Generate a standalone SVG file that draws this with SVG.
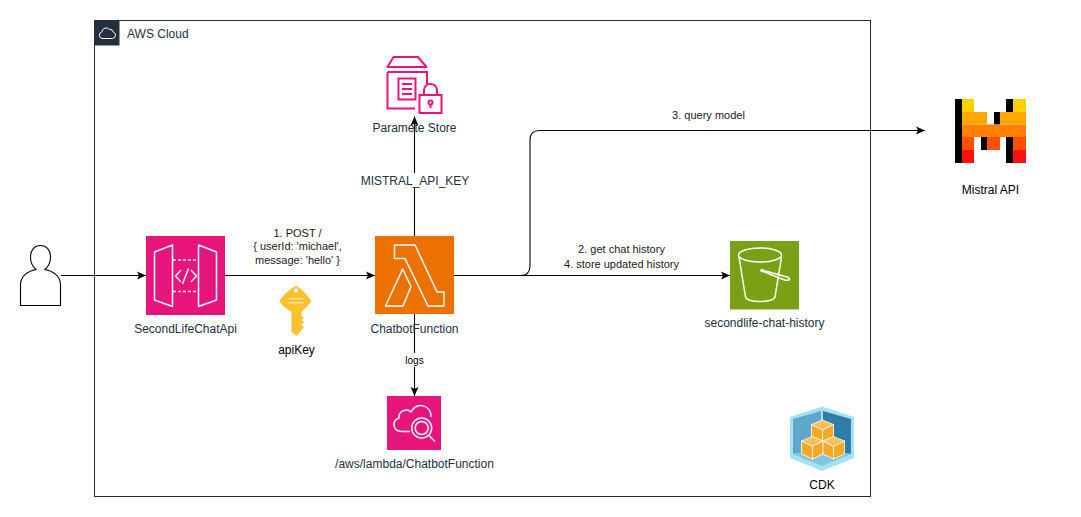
<svg xmlns="http://www.w3.org/2000/svg" width="1081" height="517" viewBox="0 0 1081 517">
<defs>
<marker id="arrow" markerUnits="userSpaceOnUse" markerWidth="11" markerHeight="11" refX="10" refY="5.500" orient="auto"><path d="M1 1.500 L10 5.500 L1 9.500 L3 5.500 Z" fill="#000"/></marker>
</defs>
<style>
text{font-family:"Liberation Sans",Arial,sans-serif;font-size:12px;text-anchor:middle}
.dark{fill:#232f3e}
.blk{fill:#000}
.lbl{fill:#1a1a1a;font-size:11px}
.conn{fill:none;stroke:#000;stroke-width:1.100;marker-end:url(#arrow)}
.ico{fill:none;stroke:#fff;stroke-width:1.500;stroke-linejoin:round}
.pink{fill:none;stroke:#e7157b;stroke-width:2}
</style>
<rect width="1081" height="517" fill="#fff"/>
<g id="aws-cloud">
<rect x="94.500" y="20.500" width="776" height="476" fill="none" stroke="#232f3e" stroke-width="1"/>
<rect x="94.500" y="20.500" width="25" height="25" fill="#232f3e"/>
<path d="M102 38.500 h10.500 a3.300 3.300 0 0 0 .8-6.400 a3.200 3.200 0 0 0-3.800-2.600 a4.300 4.300 0 0 0-7.600 2.400 a3.400 3.400 0 0 0 .1 6.600 Z" fill="none" stroke="#fff" stroke-width="1"/>
<text x="127" y="38" class="dark" style="text-anchor:start">AWS Cloud</text>
</g>
<g id="connectors">
<path class="conn" d="M61 275.500 H146"/>
<path class="conn" d="M225 275.500 H375"/>
<path class="conn" d="M414.500 236 V116.500"/>
<path class="conn" d="M414.500 314 V396"/>
<path class="conn" d="M454 275.500 H730"/>
<path class="conn" d="M454 275.500 H520.500 Q530 275.500 530 266 V140 Q530 130.500 539.500 130.500 H925"/>
<rect x="360" y="173" width="110" height="15" fill="#fff"/>
<text x="415" y="184.500" class="dark">MISTRAL_API_KEY</text>
<rect x="404" y="353" width="21" height="14" fill="#fff"/>
<text x="414.500" y="363.500" class="blk" style="font-size:10px">logs</text>
<text x="297.500" y="237" class="lbl">1. POST /</text>
<text x="297.500" y="250" class="lbl">{ userId: 'michael',</text>
<text x="297.500" y="263.500" class="lbl">message: 'hello' }</text>
<text x="621.500" y="252.500" class="lbl">2. get chat history</text>
<text x="621.500" y="267.500" class="lbl">4. store updated history</text>
<text x="708.500" y="119" class="lbl">3. query model</text>
</g>
<g id="user">
<path d="M20.500 305.500 V285 C20.500 276 28 271 36 269.500 C33 267 30.500 262.500 30.500 257 C30.500 250 34.500 245.500 40.500 245.500 C46.500 245.500 50.500 250 50.500 257 C50.500 262.500 48 267 45 269.500 C53 271 60.500 276 60.500 285 V305.500 Z" fill="#fff" stroke="#000" stroke-width="1.100"/>
</g>
<g id="api">
<rect x="146" y="236" width="79" height="79" fill="#e7157b"/>
<path class="ico" d="M154.500 252 L172.500 245 V306.500 L154.500 300 Z M216.500 252 L198.500 245 V306.500 L216.500 300 Z"/>
<path class="ico" stroke-dasharray="3 2" d="M173 260 H198 M173 291.500 H198"/>
<path class="ico" d="M181 270 L175.500 276 L181 282 M191 270 L196.500 276 L191 282 M188.500 268.500 L182.500 284"/>
<text x="185.500" y="332.500" class="dark">SecondLifeChatApi</text>
</g>
<g id="apikey">
<path d="M296 286 C299 286 311 299 311 301 C311 303.500 302 311 301.500 312 V316 L304 318 L301.500 320 L304 322 L301.500 325 L304 327 L296.500 336 L291.500 332 V312 C289 311 279.500 303 279.500 301 C279.500 299 293 286 296 286 Z" fill="#fbc02d"/>
<rect x="288.500" y="298" width="15" height="1.500" fill="#fde68a"/>
<rect x="288.500" y="302" width="15" height="1.500" fill="#fde68a"/>
<circle cx="296" cy="290.500" r="2" fill="#fff"/>
<text x="296.500" y="354" class="blk">apiKey</text>
</g>
<g id="lambda">
<rect x="375" y="236" width="79" height="78" fill="#ed7100"/>
<path class="ico" d="M394.500 245 H415 L437 292 H444 V306 H428 L405 258.500 H394.500 Z M402.700 269 L411 286.500 L403 306 H385.500 Z"/>
<text x="414.500" y="332.500" class="dark">ChatbotFunction</text>
</g>
<g id="parameter-store">
<path class="pink" stroke-linejoin="round" d="M387.500 67 L393.500 57 H418 L426.500 67 Z"/>
<path class="pink" d="M387.500 72 V108.500 H415 M387.500 72 H427 V84"/>
<rect x="398.500" y="78.500" width="17" height="21" class="pink"/>
<path class="pink" d="M402 84 H412 M402 89 H412 M402 94 H412"/>
<rect x="419.500" y="95" width="22" height="18" class="pink"/>
<path class="pink" d="M424 95 V90 a6.500 6 0 0 1 13 0 V95"/>
<circle cx="430.500" cy="102.500" r="2" class="pink"/>
<path class="pink" d="M430.500 104 V108"/>
<text x="414.500" y="132" class="dark">Paramete Store</text>
</g>
<g id="logs-group">
<rect x="387" y="396" width="54" height="54" fill="#e7157b"/>
<path class="ico" d="M410 431.500 H402 C393 431.500 391 421 399 418 C398 411 407 408 411 412 C416 401 432 405 431 417"/>
<circle cx="421.700" cy="428" r="10" class="ico"/>
<circle cx="421.700" cy="428" r="6.500" class="ico"/>
<path class="ico" stroke-width="2.500" d="M429 435.500 L435 441.500"/>
<text x="414.500" y="468" class="dark">/aws/lambda/ChatbotFunction</text>
</g>
<g id="s3">
<rect x="730" y="241" width="69" height="68.500" fill="#7aa116"/>
<path class="ico" d="M739 257 L745.500 297 C747 303 773 303 775 297 L781.500 257"/>
<ellipse cx="760" cy="255" rx="21.500" ry="7" class="ico"/>
<path class="ico" d="M762 270 L787 277 C792 279 789 281 785 280 C778 278 770 274 762 271"/>
<circle cx="762" cy="270.500" r="1.800" fill="#fff"/>
<text x="764.500" y="326.500" class="dark">secondlife-chat-history</text>
</g>
<g id="mistral">
<rect x="955" y="99" width="7" height="64" fill="#000"/>
<rect x="962" y="99" width="12" height="13" fill="#ffd000"/>
<rect x="962" y="112" width="25" height="12.500" fill="#ffa800"/>
<rect x="1006" y="99" width="7" height="13" fill="#000"/>
<rect x="1013" y="99" width="13" height="13" fill="#ffd000"/>
<rect x="1000" y="112" width="26" height="12.500" fill="#ffa800"/>
<rect x="994" y="112" width="6" height="12.500" fill="#000"/>
<rect x="962" y="124.500" width="64" height="12.500" fill="#ff7f00"/>
<rect x="962" y="137" width="12" height="13" fill="#ff5000"/>
<rect x="981" y="137" width="6" height="13" fill="#000"/>
<rect x="987" y="137" width="13" height="13" fill="#ff5000"/>
<rect x="1006" y="137" width="7" height="26" fill="#000"/>
<rect x="1013" y="137" width="13" height="13" fill="#ff5000"/>
<rect x="962" y="150" width="12" height="13" fill="#ff1010"/>
<rect x="1013" y="150" width="13" height="13" fill="#ff1010"/>
<text x="990.500" y="194" class="blk">Mistral API</text>
</g>
<g id="cdk">
<path d="M822 406.500 L854 417 V458 L822 471 L790 458 V417 Z" fill="#a6e0f5"/>
<path d="M823 411 L851 419 V454 L823 450 Z" fill="#2e7da6"/>
<path d="M821 411 L793 419 V454 L821 450 Z" fill="#5fa8cc"/>
<path d="M793 454 L822 450 L851 454 L822 466 Z" fill="#7fc6e3"/>
<g fill="#f9a825" stroke="#fff" stroke-width=".8">
<path d="M811.500 424.500 L822.500 420 L833.500 424.500 L822.500 430 Z" fill="#fdc05a"/><path d="M811.500 424.500 V438 L822.500 443 V430 Z"/><path d="M833.500 424.500 V438 L822.500 443 V430 Z"/>
<path d="M801.500 441 L812.500 436.500 L823 441 L812.500 446.500 Z" fill="#fdc05a"/><path d="M801.500 441 V454 L812.500 459 V446.500 Z"/><path d="M823 441 V454 L812.500 459 V446.500 Z"/>
<path d="M823 441 L833.500 436.500 L844.500 441 L833.500 446.500 Z" fill="#fdc05a"/><path d="M823 454 V441 L833.500 446.500 V459 Z"/><path d="M844.500 441 V454 L833.500 459 V446.500 Z"/>
</g>
<text x="822" y="489" class="blk">CDK</text>
</g>
</svg>
